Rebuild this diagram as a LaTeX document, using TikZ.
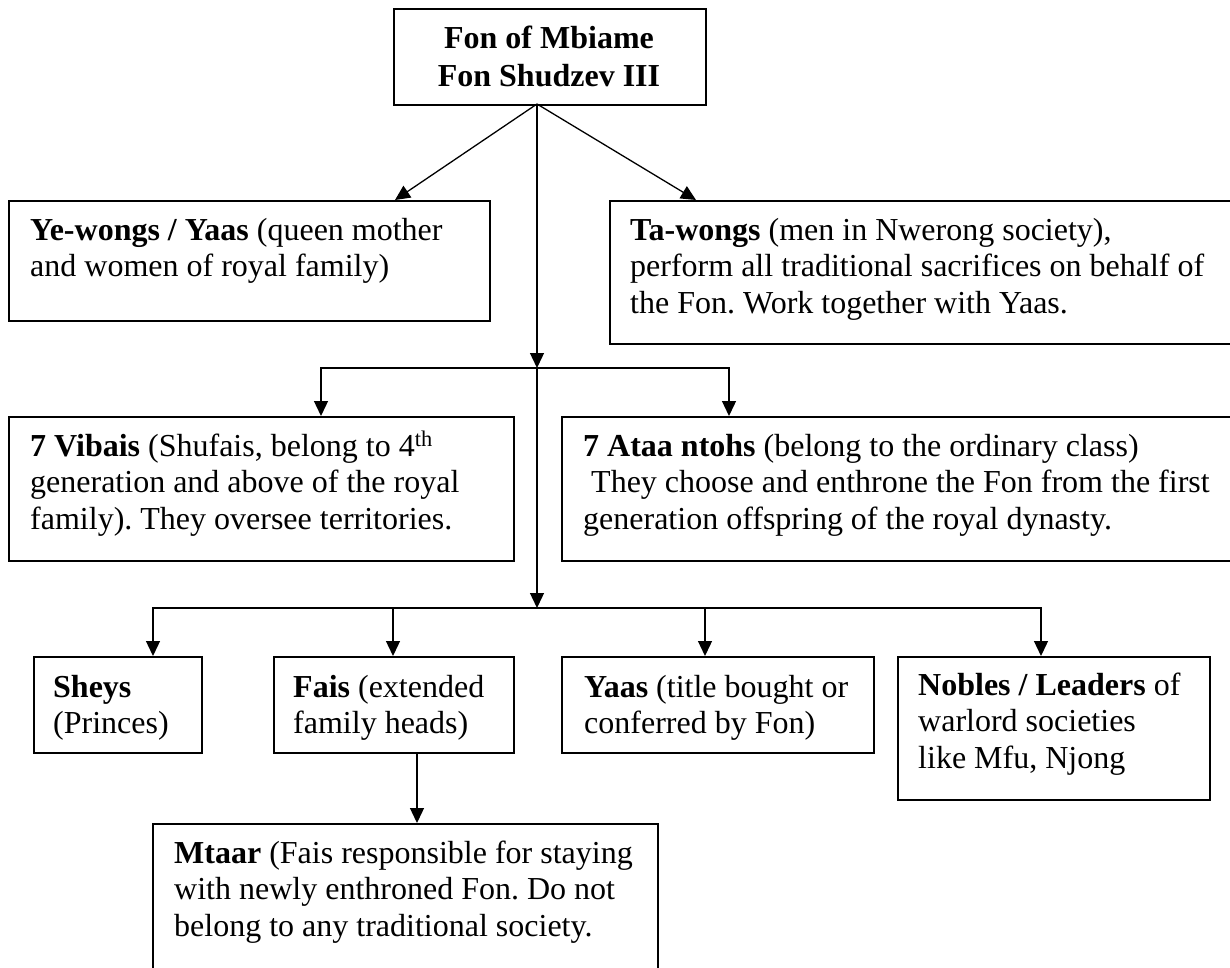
\documentclass[tikz,border=0pt]{standalone}
\usepackage{fontspec}
\setmainfont{Liberation Serif}
\usetikzlibrary{arrows.meta,calc}
\frenchspacing
\begin{document}
\begin{tikzpicture}[x=1pt,y=-1pt,
  box/.style={draw, line width=1.8pt, inner sep=0pt, anchor=north west},
  txt/.style={inner sep=0pt, anchor=base west, align=left,
              font=\fontsize{32}{36.6}\selectfont},
  conn/.style={line width=1.3pt},
  arr/.style={conn, -{Triangle[length=15pt,width=14pt]}}]

\useasboundingbox (0,0) rectangle (1230,967);
\clip (0,0) rectangle (1230,967);

% ---- boxes ----
\node[box, minimum width=312pt, minimum height=96pt]  (fon)    at (393,8)   {};
\node[box, minimum width=481pt, minimum height=120pt] (ye)     at (8,200)   {};
\node[box, minimum width=640pt, minimum height=143pt] (ta)     at (609,200) {};
\node[box, minimum width=505pt, minimum height=144pt] (vib)    at (8,416)   {};
\node[box, minimum width=680pt, minimum height=144pt] (ata)    at (561,416) {};
\node[box, minimum width=168pt, minimum height=96pt]  (shey)   at (33,656)  {};
\node[box, minimum width=240pt, minimum height=96pt]  (fais)   at (273,656) {};
\node[box, minimum width=312pt, minimum height=96pt]  (yaas)   at (561,656) {};
\node[box, minimum width=312pt, minimum height=143pt] (noble)  at (897,656) {};
\node[box, minimum width=505pt, minimum height=180pt] (mtaar)  at (152,823) {};

% ---- texts (anchored on the baseline of their last line) ----
\node[inner sep=0pt, anchor=base, align=center,
      font=\bfseries\fontsize{32}{38}\selectfont] (fonT) at (549,86)
  {Fon of Mbiame\\Fon Shudzev III};
\node[txt] (yeT) at ($(ye.north west)+(22,76.6)$)
  {\textbf{Ye-wongs / Yaas} (queen mother\\and women of royal family)};
\node[txt] (taT) at ($(ta.north west)+(21,113.2)$)
  {\textbf{Ta-wongs} (men in Nwerong society),\\perform all traditional sacrifices on behalf of\\the Fon. Work together with Yaas.};
\node[txt] (vibT) at ($(vib.north west)+(22,113.2)$)
  {\textbf{7 Vibais} (Shufais, belong to 4\textsuperscript{th}\\generation and above of the royal\\family). They oversee territories.};
\node[txt] (ataT) at ($(ata.north west)+(22,113.2)$)
  {\textbf{7 Ataa ntohs} (belong to the ordinary class)\\\hspace*{8pt}They choose and enthrone the Fon from the first\\generation offspring of the royal dynasty.};
\node[txt] (sheyT) at ($(shey.north west)+(20,77.6)$)
  {\textbf{Sheys}\\(Princes)};
\node[txt] (faisT) at ($(fais.north west)+(20,77.6)$)
  {\textbf{Fais} (extended\\family heads)};
\node[txt] (yaasT) at ($(yaas.north west)+(23,77.6)$)
  {\textbf{Yaas} (title bought or\\conferred by Fon)};
\node[txt] (nobleT) at ($(noble.north west)+(21,112.2)$)
  {\textbf{Nobles / Leaders} of\\warlord societies\\like Mfu, Njong};
\node[txt] (mtaarT) at ($(mtaar.north west)+(22,113.2)$)
  {\textbf{Mtaar} (Fais responsible for staying\\with newly enthroned Fon. Do not\\belong to any traditional society.};

% ---- junctions on the main trunk ----
\coordinate (s0) at (537,104);
\coordinate (j1) at (537,368);
\coordinate (j2) at (537,608);

% ---- connectors ----
\draw[arr] (s0) -- ([xshift=387pt]ye.north west);
\draw[arr] (s0) -- ([xshift=87pt]ta.north west);
\draw[arr] (s0) -- (j1);
\draw[arr] (j1) -- (j2);

\draw[arr] (j1) -| ([xshift=313pt]vib.north west);
\draw[arr] (j1) -| ([xshift=168pt]ata.north west);

\draw[arr] (j2) -| ([xshift=120pt]shey.north west);
\draw[arr] (j2) -| ([xshift=120pt]fais.north west);
\draw[arr] (j2) -| ([xshift=144pt]yaas.north west);
\draw[arr] (j2) -| ([xshift=144pt]noble.north west);

\draw[arr] ([xshift=144pt]fais.south west) -- ([xshift=265pt]mtaar.north west);
\end{tikzpicture}
\end{document}
